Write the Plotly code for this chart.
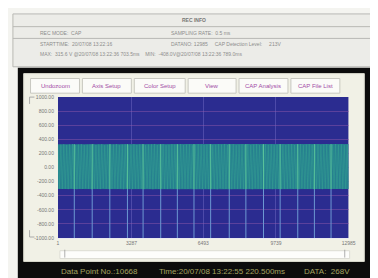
import numpy as np
import plotly.graph_objects as go

W, H = 378, 278

# ---------------- data ----------------
y_ticks = [1000, 800, 600, 400, 200, 0, -200, -400, -600, -800, -1000]
y_tick_text = ["1000.00", "800.00", "600.00", "400.00", "200.00", "0.00",
               "-200.00", "-400.00", "-600.00", "-800.00", "-1000.00"]
x_ticks = [1, 3287, 6493, 9739, 12985]
x_tick_text = ["1", "3287", "6493", "9739", "12985"]

upper_peaks = [318, 326, 331, 322, 329, 334, 320, 327, 332, 319, 325, 330, 335, 321, 328, 333, 317, 324, 330, 326,
               333, 320, 327, 331, 318, 325, 334, 322, 329, 332, 319, 326, 330, 335, 321, 327, 333, 318, 324, 331,
               328, 322, 334, 320, 326, 330, 317, 325, 332, 329, 321, 327, 333, 319, 324, 331, 326, 335, 320, 328,
               332, 318, 325, 330, 323, 334, 321, 327, 331, 319, 326, 333, 322, 329, 317, 324, 332, 328, 320, 330,
               334, 321, 326, 331, 318, 327, 333, 322, 325, 330, 319, 328, 332, 320, 326, 334, 323, 329, 318, 325]
lower_peaks = [-298, -304, -301, -307, -296, -303, -309, -300, -305, -297, -302, -308, -299, -304, -306, -295, -301, -307, -303, -298,
               -305, -300, -308, -296, -302, -306, -299, -304, -301, -307, -297, -303, -309, -300, -305, -298, -302, -306, -296, -304,
               -301, -308, -299, -303, -305, -297, -302, -307, -300, -304, -298, -306, -301, -303, -309, -296, -302, -305, -299, -307,
               -300, -304, -298, -306, -302, -301, -308, -297, -303, -305, -299, -304, -300, -307, -296, -302, -306, -301, -303, -298,
               -305, -300, -308, -297, -302, -304, -299, -306, -301, -303, -307, -296, -302, -305, -300, -304, -298, -306, -301, -303]

spike_points = [731, 1531, 2318, 3105, 3804, 4591, 5334, 6077, 6821, 7652, 8394, 9182, 9925, 10712, 11455, 12198]
spike_min = -1000
band_top = [332, 334, 333, 335, 334, 333, 335, 334, 333, 335, 334, 333, 334]
band_bottom = [-306, -308, -307, -309, -307, -306, -308, -309, -307, -306, -308, -307, -306]

n_points = 12985

# ---------------- figure ----------------
def px(x):
    return x / W

def py(y):
    return 1 - y / H

fig = go.Figure()

# band fill (envelope)
band_x = np.linspace(1, n_points, len(band_top))
fig.add_trace(go.Scatter(x=band_x, y=band_top, mode="lines", line=dict(width=0, color="rgba(0,0,0,0)"),
                         hoverinfo="skip", showlegend=False))
fig.add_trace(go.Scatter(x=band_x, y=band_bottom, mode="lines", line=dict(width=0, color="rgba(0,0,0,0)"),
                         fill="tonexty", fillcolor="#26808f", hoverinfo="skip", showlegend=False))

# waveform zig-zag
wave_y = []
for u, l in zip(upper_peaks, lower_peaks):
    wave_y += [u, l]
wave_x = np.linspace(1, n_points, len(wave_y))
fig.add_trace(go.Scatter(x=wave_x, y=wave_y, mode="lines", line=dict(width=0.6, color="#349c92"),
                         hoverinfo="skip", showlegend=False))

# spikes
sx, sy = [], []
for s in spike_points:
    sx += [s, s, None]
    sy += [band_bottom[0], spike_min, None]
fig.add_trace(go.Scatter(x=sx, y=sy, mode="lines", line=dict(width=1.0, color="#6c98d2"),
                         hoverinfo="skip", showlegend=False))
sx2, sy2 = [], []
for s in spike_points:
    sx2 += [s, s, None]
    sy2 += [band_top[0], band_bottom[0], None]
fig.add_trace(go.Scatter(x=sx2, y=sy2, mode="lines", line=dict(width=1.0, color="#58c29a"),
                         hoverinfo="skip", showlegend=False))

shapes = []
annos = []

def rect(x0, y0, x1, y1, fill, line=None, lw=0):
    shapes.append(dict(type="rect", xref="paper", yref="paper", x0=px(x0), x1=px(x1), y0=py(y1), y1=py(y0),
                       fillcolor=fill, line=dict(color=line or fill, width=lw), layer="below"))

def hline(x0, x1, y, color, lw=1):
    shapes.append(dict(type="line", xref="paper", yref="paper", x0=px(x0), x1=px(x1), y0=py(y), y1=py(y),
                       line=dict(color=color, width=lw), layer="below"))

def text(x, y, s, size=5, color="#8a8a8a", anchor="left", weight="normal"):
    annos.append(dict(x=px(x), y=py(y), xref="paper", yref="paper", text=s, showarrow=False,
                      xanchor=anchor, yanchor="middle",
                      font=dict(size=size, color=color, family="Liberation Sans", weight=weight)))

# outer background
rect(0, 0, 378, 278, "#f4f4f0")
# top info panel
rect(4, 3, 374, 57, "#ecece8", "#b8b8b4", 1)
hline(4, 374, 16, "#b8b8b4", 1)
hline(4, 374, 28, "#b8b8b4", 1)
text(189, 9.5, "REC INFO", size=5, color="#777777", anchor="center", weight="bold")
text(30, 22.5, "REC MODE:  CAP", color="#8c8c8c")
text(163, 22.5, "SAMPLING RATE:  0.5 ms", color="#8c8c8c")
text(30, 34, "STARTTIME:  20/07/08 13:22:16", color="#8c8c8c")
text(163, 34, "DATANO: 12985     CAP Detection Level:     213V", color="#8c8c8c")
text(30, 44, "MAX:  315.6 V @20/07/08 13:22:36 703.5ms    MIN:  -408.0V@20/07/08 13:22:36 789.0ms", color="#8c8c8c")

# black frame
rect(9, 58, 369, 277, "#0c0c0c")
rect(15, 64, 363, 256, "#f1f1e6", "#d8d8cc", 1)

# buttons
btns = [("Undozoom", 22, 72), ("Axis Setup", 75, 125), ("Color Setup", 128, 180),
        ("View", 183, 232), ("CAP Analysis", 235, 285), ("CAP File List", 288, 338)]
for label, x0, x1 in btns:
    rect(x0, 69, x1, 84, "#fbfbf8", "#c8c8c0", 1)
    text((x0 + x1) / 2, 76.5, label, size=6, color="#a24aa6", anchor="center")

# scrollbar strip
rect(52, 245, 348, 253, "#fdfdfb", "#dcdcd4", 1)
# little brackets
for path in [f"M {px(26)} {py(88)} L {px(21)} {py(88)} L {px(21)} {py(95)}",
             f"M {px(21)} {py(224)} L {px(21)} {py(231)} L {px(26)} {py(231)}",
             f"M {px(57)} {py(244)} L {px(57)} {py(252)}",
             f"M {px(343)} {py(244)} L {px(343)} {py(252)}"]:
    shapes.append(dict(type="path", xref="paper", yref="paper", path=path,
                       line=dict(color="#9a9a9a", width=0.8)))

# plot background (data-referenced so it sits inside the subplot)
shapes.append(dict(type="rect", xref="x", yref="y", x0=1, x1=n_points, y0=-1000, y1=1000,
                   fillcolor="#2b2c90", line=dict(width=0), layer="below"))

# status bar
text(92, 266, "Data Point No.:10668", size=8, color="#a4a462", anchor="center")
text(218, 266, "Time:20/07/08 13:22:55 220.500ms", size=8, color="#a4a462", anchor="center")
text(325, 266, "DATA:  268V", size=8, color="#a4a462", anchor="center")

fig.update_layout(
    width=W, height=H, margin=dict(l=0, r=0, t=0, b=0),
    paper_bgcolor="#f4f4f0", plot_bgcolor="#2b2c90",
    shapes=shapes, annotations=annos, showlegend=False,
    xaxis=dict(domain=[px(50), px(347)], range=[1, n_points], tickvals=x_ticks, ticktext=x_tick_text,
               showgrid=True, gridcolor="rgba(120,110,200,0.45)", gridwidth=0.6, zeroline=False,
               ticks="", tickfont=dict(size=5, color="#777777", family="Liberation Sans"),
               showline=True, linecolor="#e8e8f0", linewidth=1, fixedrange=True),
    yaxis=dict(domain=[py(232), py(88)], range=[-1000, 1000], tickvals=y_ticks, ticktext=y_tick_text,
               showgrid=True, gridcolor="rgba(150,90,170,0.45)", gridwidth=0.6, zeroline=False,
               ticks="", tickfont=dict(size=5, color="#777777", family="Liberation Sans"),
               ticklabelstandoff=3, fixedrange=True),
)

fig.write_html("out.html")
